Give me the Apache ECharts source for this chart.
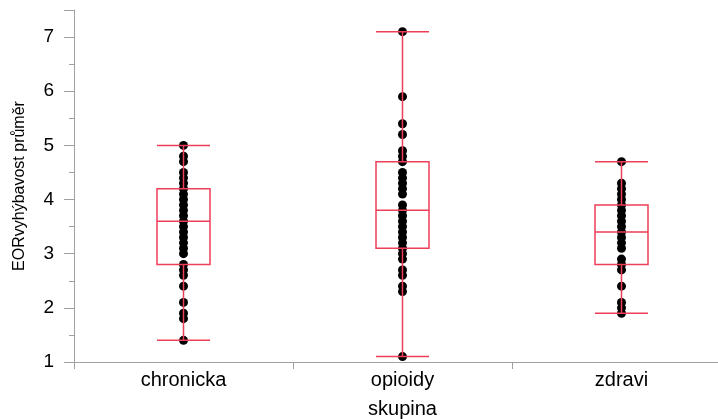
<!DOCTYPE html>
<html>
<head>
<meta charset="utf-8">
<script src="https://cdn.jsdelivr.net/npm/echarts@6/dist/echarts.min.js"></script>
<style>html,body{margin:0;padding:0;background:#fff}#c{width:718px;height:419px}</style>
</head>
<body>
<div id="c"></div>
<script>
const categories = ['chronicka', 'opioidy', 'zdravi'];
// box stats: [low whisker, Q1, median, Q3, high whisker]
const boxStats = [
  [1.4, 2.8, 3.6, 4.2, 5.0],
  [1.1, 3.1, 3.8, 4.7, 7.1],
  [1.9, 2.8, 3.4, 3.9, 4.7]
];
const chronickaPts = [5.0, 4.8, 4.7, 4.5, 4.4, 4.3, 4.2, 4.1, 4.0, 3.9, 3.8, 3.7, 3.6, 3.5, 3.4, 3.3, 3.2, 3.1, 3.0, 2.8, 2.7, 2.6, 2.4, 2.1, 1.9, 1.8, 1.4];
const opioidyPts = [7.1, 5.9, 5.4, 5.2, 4.9, 4.8, 4.7, 4.5, 4.4, 4.3, 4.2, 4.1, 3.9, 3.8, 3.7, 3.6, 3.5, 3.4, 3.3, 3.2, 3.1, 3.0, 2.9, 2.7, 2.6, 2.4, 2.3, 1.1];
const zdraviPts = [4.7, 4.3, 4.2, 4.1, 4.0, 3.9, 3.8, 3.7, 3.6, 3.5, 3.4, 3.3, 3.2, 3.1, 2.9, 2.8, 2.7, 2.4, 2.1, 2.0, 1.9];
const yTicks = [1, 2, 3, 4, 5, 6, 7];
const yMin = 1, yMax = 7.5;

const groups = [chronickaPts, opioidyPts, zdraviPts];
const scatterData = [];
groups.forEach((g, i) => g.forEach(v => scatterData.push([categories[i], v])));

const FONT = 'Arial, "Liberation Sans", sans-serif';
const chart = echarts.init(document.getElementById('c'), null, {renderer: 'canvas'});
chart.setOption({
  animation: false,
  backgroundColor: '#fff',
  grid: {left: 74, top: 10, width: 657, height: 352, containLabel: false, outerBoundsMode: 'none'},
  xAxis: {
    type: 'category',
    data: categories,
    boundaryGap: true,
    name: 'skupina',
    nameLocation: 'middle',
    nameGap: 37,
    nameTextStyle: {fontFamily: FONT, fontSize: 20, color: '#000'},
    axisLine: {lineStyle: {color: '#a0a0a0', width: 1}},
    axisTick: {show: true, alignWithLabel: false, length: 7, lineStyle: {color: '#a0a0a0'}},
    axisLabel: {fontFamily: FONT, fontSize: 20, color: '#000', margin: 8},
    splitLine: {show: false}
  },
  yAxis: {
    type: 'value',
    min: yMin,
    max: yMax,
    interval: 1,
    name: 'EORvyhýbavost průměr',
    nameLocation: 'middle',
    nameGap: 46,
    nameRotate: 90,
    nameTextStyle: {fontFamily: FONT, fontSize: 16, color: '#000'},
    axisLine: {show: true, lineStyle: {color: '#a0a0a0', width: 1}},
    axisTick: {show: true, length: 10, lineStyle: {color: '#a0a0a0'}},
    minorTick: {show: true, splitNumber: 2, length: 5, lineStyle: {color: '#a0a0a0'}},
    axisLabel: {
      fontFamily: FONT, fontSize: 19, color: '#000', margin: 20,
      formatter: v => (yTicks.indexOf(v) >= 0 ? String(v) : '')
    },
    splitLine: {show: false}
  },
  series: [
    {
      type: 'scatter',
      data: scatterData,
      symbol: 'circle',
      symbolSize: 9,
      itemStyle: {color: '#000', opacity: 1},
      z: 2
    },
    {
      type: 'boxplot',
      data: boxStats,
      boxWidth: [53, 53],
      itemStyle: {color: 'rgba(0,0,0,0)', borderColor: '#ee3e58', borderWidth: 1.5},
      z: 3
    }
  ]
});
</script>
</body>
</html>
